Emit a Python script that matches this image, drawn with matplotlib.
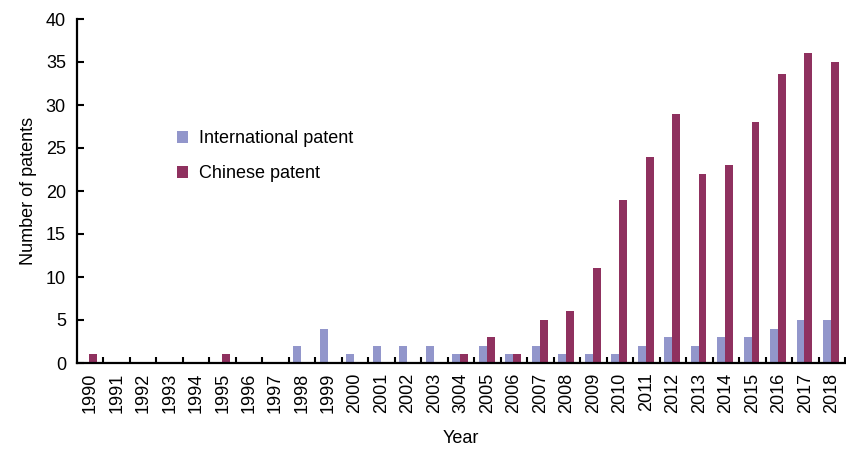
import numpy as np
import matplotlib
matplotlib.use("Agg")
import matplotlib.pyplot as plt
from matplotlib.ticker import FixedLocator

plt.rcParams["font.family"] = ["Liberation Sans", "DejaVu Sans"]

years = ["1990", "1991", "1992", "1993", "1994", "1995", "1996", "1997", "1998", "1999",
         "2000", "2001", "2002", "2003", "3004", "2005", "2006", "2007", "2008", "2009",
         "2010", "2011", "2012", "2013", "2014", "2015", "2016", "2017", "2018"]
international = [0, 0, 0, 0, 0, 0, 0, 0, 2, 4,
                 1, 2, 2, 2, 1, 2, 1, 2, 1, 1,
                 1, 2, 3, 2, 3, 3, 4, 5, 5]
chinese = [1, 0, 0, 0, 0, 1, 0, 0, 0, 0,
           0, 0, 0, 0, 1, 3, 1, 5, 6, 11,
           19, 24, 29, 22, 23, 28, 33.6, 36, 35]

int_color = "#9296CB"
chi_color = "#8F315F"

fig = plt.figure(figsize=(8.46, 4.5), dpi=100)
ax = fig.add_axes([77 / 846, 1 - 363 / 450, 768 / 846, 344 / 450])

x = np.arange(len(years))
w = 0.3
ax.bar(x - w / 2 - 0.03, international, width=w, color=int_color, label="International patent")
ax.bar(x + w / 2 - 0.03, chinese, width=w, color=chi_color, label="Chinese patent")

ax.set_xlim(-0.5, len(years) - 0.5)
ax.set_ylim(0, 40)
ax.set_yticks(range(0, 41, 5))
ax.tick_params(axis="y", direction="in", length=5, width=1.5, labelsize=13, pad=8)

ax.set_xticks(x)
ax.set_xticklabels(years, rotation=90)
ax.tick_params(axis="x", which="major", length=0, labelsize=13, pad=7)
ax.xaxis.set_minor_locator(FixedLocator(np.arange(0.5, len(years), 1.0)))
ax.tick_params(axis="x", which="minor", direction="in", length=4, width=1.5)

for s in ["top", "right"]:
    ax.spines[s].set_visible(False)
for s in ["left", "bottom"]:
    ax.spines[s].set_linewidth(1.6)

ax.set_xlabel("Year", fontsize=13, labelpad=12)
ax.set_ylabel("Number of patents", fontsize=13, labelpad=6)

ax.legend(loc="upper left", bbox_to_anchor=(161 / 846, 1 - 114 / 450),
          bbox_transform=fig.transFigure, frameon=False, fontsize=13,
          handlelength=0.6, handleheight=0.6, handletextpad=0.6, labelspacing=1.0)

fig.savefig("out.png", dpi=100)
